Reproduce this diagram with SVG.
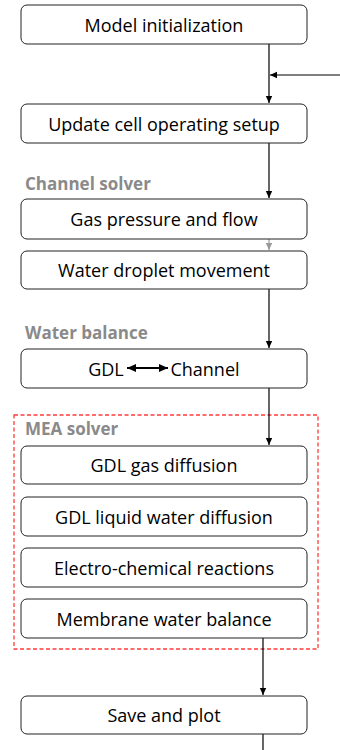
<svg xmlns="http://www.w3.org/2000/svg" width="340" height="750" viewBox="0 0 340 750">
  <style>
    .box { fill: #ffffff; stroke: #222222; stroke-width: 1; }
    .txt { font-family: "Open Sans", "Liberation Sans", sans-serif; font-size: 18px; fill: #000000; text-anchor: middle; dominant-baseline: central; }
    .lbl { font-family: "Open Sans", "Liberation Sans", sans-serif; font-size: 17px; font-weight: bold; fill: #8a8a8a; }
    .conn { fill: none; stroke: #000000; stroke-width: 1.2; }
    .conn-grey { fill: none; stroke: #999999; stroke-width: 1.2; }
    .dbl { fill: none; stroke: #000000; stroke-width: 1.8; }
  </style>
  <defs>
    <marker id="arrow" markerWidth="8" markerHeight="8" refX="7" refY="4" orient="auto" markerUnits="userSpaceOnUse">
      <path d="M0,0.8 L7,4 L0,7.2 Z" fill="#000000"/>
    </marker>
    <marker id="arrow-grey" markerWidth="8" markerHeight="8" refX="7" refY="4" orient="auto" markerUnits="userSpaceOnUse">
      <path d="M0,0.8 L7,4 L0,7.2 Z" fill="#999999"/>
    </marker>
    <marker id="dbl-end" markerWidth="10" markerHeight="10" refX="9" refY="5" orient="auto" markerUnits="userSpaceOnUse">
      <path d="M0,1 L9,5 L0,9 Z" fill="#000000"/>
    </marker>
    <marker id="dbl-start" markerWidth="10" markerHeight="10" refX="0" refY="5" orient="auto" markerUnits="userSpaceOnUse">
      <path d="M9,1 L0,5 L9,9 Z" fill="#000000"/>
    </marker>
  </defs>

  <!-- MEA solver frame -->
  <rect x="14" y="415" width="304" height="234" fill="none" stroke="#ff3b3b" stroke-width="1.3" stroke-dasharray="4,2.5"/>

  <!-- section labels -->
  <text class="lbl" x="25" y="190">Channel solver</text>
  <text class="lbl" x="25" y="339">Water balance</text>
  <text class="lbl" x="25" y="435">MEA solver</text>

  <g id="connectors">
    <path class="conn" d="M269,44 V103" marker-end="url(#arrow)"/>
    <path class="conn" d="M340,75 H270" marker-end="url(#arrow)"/>
    <path class="conn" d="M269,143 V198" marker-end="url(#arrow)"/>
    <path class="conn-grey" d="M269,239 V250" marker-end="url(#arrow-grey)"/>
    <path class="conn" d="M269,289 V348" marker-end="url(#arrow)"/>
    <path class="conn" d="M269,388 V445" marker-end="url(#arrow)"/>
    <path class="conn" d="M263,638 V695" marker-end="url(#arrow)"/>
    <path class="conn" d="M263,734 V750"/>
  </g>

  <g id="model-init">
    <rect class="box" x="21" y="5" width="286" height="39" rx="6"/>
    <text class="txt" x="164" y="24.5">Model initialization</text>
  </g>
  <g id="update-setup">
    <rect class="box" x="21" y="104" width="286" height="39" rx="6"/>
    <text class="txt" x="164" y="123.5">Update cell operating setup</text>
  </g>
  <g id="gas-pressure">
    <rect class="box" x="21" y="199" width="286" height="40" rx="6"/>
    <text class="txt" x="164" y="219">Gas pressure and flow</text>
  </g>
  <g id="droplet">
    <rect class="box" x="21" y="251" width="286" height="38" rx="6"/>
    <text class="txt" x="164" y="270">Water droplet movement</text>
  </g>
  <g id="gdl-channel">
    <rect class="box" x="21" y="349" width="286" height="39" rx="6"/>
    <text class="txt" x="106" y="368.5">GDL</text>
    <text class="txt" x="205" y="368.5">Channel</text>
    <path class="dbl" d="M127,368 H168" marker-start="url(#dbl-start)" marker-end="url(#dbl-end)"/>
  </g>
  <g id="gdl-gas">
    <rect class="box" x="21" y="446" width="286" height="38" rx="6"/>
    <text class="txt" x="164" y="465">GDL gas diffusion</text>
  </g>
  <g id="gdl-liquid">
    <rect class="box" x="21" y="497" width="286" height="39" rx="6"/>
    <text class="txt" x="164" y="516.5">GDL liquid water diffusion</text>
  </g>
  <g id="electrochem">
    <rect class="box" x="21" y="548" width="286" height="39" rx="6"/>
    <text class="txt" x="164" y="567.5">Electro-chemical reactions</text>
  </g>
  <g id="membrane">
    <rect class="box" x="21" y="599" width="286" height="39" rx="6"/>
    <text class="txt" x="164" y="618.5">Membrane water balance</text>
  </g>
  <g id="save-plot">
    <rect class="box" x="21" y="696" width="286" height="38" rx="6"/>
    <text class="txt" x="164" y="715">Save and plot</text>
  </g>
</svg>
